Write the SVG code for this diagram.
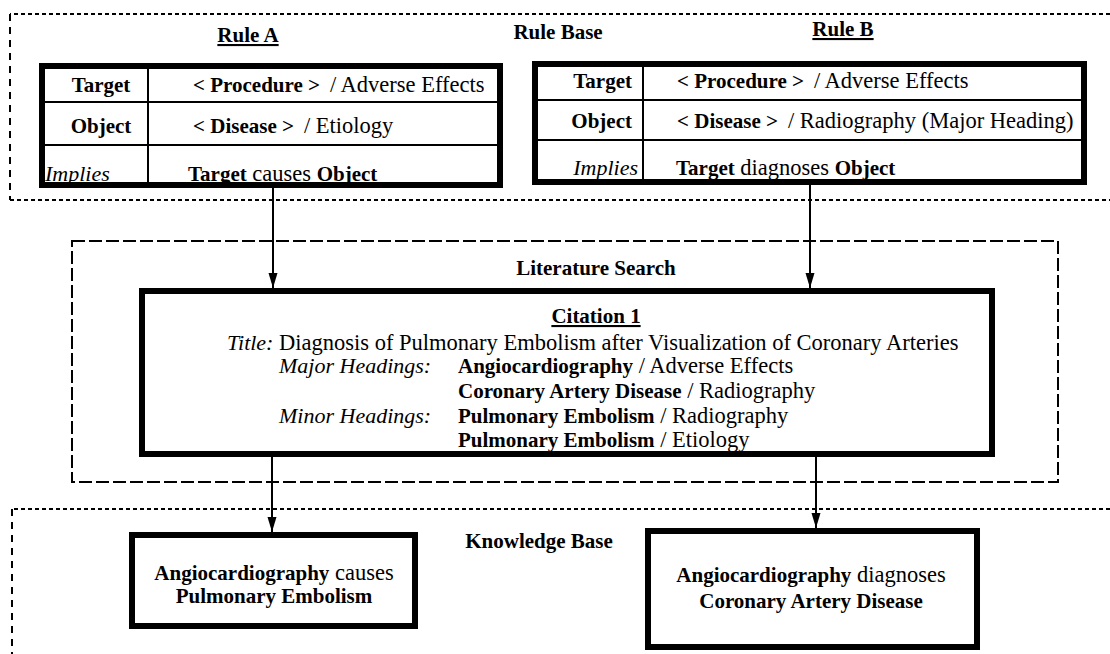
<svg xmlns="http://www.w3.org/2000/svg" width="1110" height="654" viewBox="0 0 1110 654">
<style>
text,tspan{font-family:"Liberation Serif","Times New Roman",serif;fill:#000}
.b{font-weight:bold;font-size:21px}
.r{font-weight:normal;font-size:22.5px}
.i{font-style:italic;font-weight:normal;font-size:22px}
.u{text-decoration:underline}
.dot{fill:none;stroke:#000;stroke-width:2;stroke-dasharray:4 3}
.dotv{fill:none;stroke:#000;stroke-width:2;stroke-dasharray:7 6}
.dash{fill:none;stroke:#000;stroke-width:2;stroke-dasharray:13 4}
.thick{fill:#fff;stroke:#000;stroke-width:6}
.thin{stroke:#000;stroke-width:2}
.conn{stroke:#000;stroke-width:2;fill:none;marker-end:url(#ah)}
</style>
<defs>
<marker id="ah" markerUnits="userSpaceOnUse" markerWidth="16" markerHeight="10" refX="15" refY="5" orient="auto">
<path d="M0,0.5 L15,5 L0,9.5 Z" fill="#000"/>
</marker>
</defs>
<rect width="1110" height="654" fill="#fff"/>

<g id="rule-base">
<path class="dot" d="M1110,14 H10"/>
<path class="dotv" d="M10,14 V200"/>
<path class="dot" d="M10,200 H1110"/>
<text class="b" x="558" y="39" text-anchor="middle">Rule Base</text>
</g>

<g id="literature-search">
<rect class="dash" x="72" y="241" width="986" height="241"/>
<text class="b" x="596" y="275" text-anchor="middle">Literature Search</text>
</g>

<g id="knowledge-base">
<path class="dot" d="M1110,509 H12"/>
<path class="dotv" d="M12,509 V654"/>
<text class="b" x="539" y="548" text-anchor="middle">Knowledge Base</text>
</g>

<g id="rule-a">
<text class="b u" x="248" y="42" text-anchor="middle">Rule A</text>
<rect class="thick" x="42" y="66" width="458" height="119"/>
<line class="thin" x1="148" y1="66" x2="148" y2="185"/>
<line class="thin" x1="42" y1="102" x2="500" y2="102"/>
<line class="thin" x1="42" y1="145" x2="500" y2="145"/>
<text class="b" x="101" y="92" text-anchor="middle">Target</text>
<text class="b" x="101" y="133" text-anchor="middle">Object</text>
<text class="i" x="45" y="181">Implies</text>
<text x="193" y="92"><tspan class="b">&lt; Procedure &gt;</tspan><tspan class="r" dx="10">/ Adverse Effects</tspan></text>
<text x="193" y="133"><tspan class="b">&lt; Disease &gt;</tspan><tspan class="r" dx="10">/ Etiology</tspan></text>
<text x="188" y="181"><tspan class="b">Target</tspan><tspan class="r"> causes </tspan><tspan class="b">Object</tspan></text>
</g>

<g id="rule-b">
<text class="b u" x="843" y="36" text-anchor="middle">Rule B</text>
<rect class="thick" x="535" y="64" width="549" height="118"/>
<line class="thin" x1="643" y1="64" x2="643" y2="182"/>
<line class="thin" x1="535" y1="100" x2="1084" y2="100"/>
<line class="thin" x1="535" y1="140" x2="1084" y2="140"/>
<text class="b" x="632" y="88" text-anchor="end">Target</text>
<text class="b" x="632" y="128" text-anchor="end">Object</text>
<text class="i" x="638" y="175" text-anchor="end">Implies</text>
<text x="677" y="88"><tspan class="b">&lt; Procedure &gt;</tspan><tspan class="r" dx="10">/ Adverse Effects</tspan></text>
<text x="677" y="128"><tspan class="b">&lt; Disease &gt;</tspan><tspan class="r" dx="10">/ Radiography (Major Heading)</tspan></text>
<text x="676" y="175"><tspan class="b">Target</tspan><tspan class="r"> diagnoses </tspan><tspan class="b">Object</tspan></text>
</g>

<g id="citation-1">
<rect class="thick" x="142" y="291" width="850" height="163"/>
<text class="b u" x="596" y="323" text-anchor="middle">Citation 1</text>
<text x="227" y="350"><tspan class="i">Title:</tspan><tspan class="r"> Diagnosis of Pulmonary Embolism after Visualization of Coronary Arteries</tspan></text>
<text class="i" x="279" y="373">Major Headings:</text>
<text x="458" y="373"><tspan class="b">Angiocardiography</tspan><tspan class="r"> / Adverse Effects</tspan></text>
<text x="458" y="398"><tspan class="b">Coronary Artery Disease</tspan><tspan class="r"> / Radiography</tspan></text>
<text class="i" x="279" y="423">Minor Headings:</text>
<text x="458" y="423"><tspan class="b">Pulmonary Embolism</tspan><tspan class="r"> / Radiography</tspan></text>
<text x="458" y="447"><tspan class="b">Pulmonary Embolism</tspan><tspan class="r"> / Etiology</tspan></text>
</g>

<g id="kb-a">
<rect class="thick" x="132" y="535" width="283" height="91"/>
<text x="274" y="580" text-anchor="middle"><tspan class="b">Angiocardiography</tspan><tspan class="r"> causes</tspan></text>
<text class="b" x="274" y="603" text-anchor="middle">Pulmonary Embolism</text>
</g>

<g id="kb-b">
<rect class="thick" x="648" y="531" width="329" height="116"/>
<text x="811" y="582" text-anchor="middle"><tspan class="b">Angiocardiography</tspan><tspan class="r"> diagnoses</tspan></text>
<text class="b" x="811" y="608" text-anchor="middle">Coronary Artery Disease</text>
</g>

<g id="connectors">
<line class="conn" x1="273" y1="188" x2="273" y2="288"/>
<line class="conn" x1="810" y1="185" x2="810" y2="288"/>
<line class="conn" x1="272" y1="457" x2="272" y2="532"/>
<line class="conn" x1="816" y1="457" x2="816" y2="528"/>
</g>
</svg>
